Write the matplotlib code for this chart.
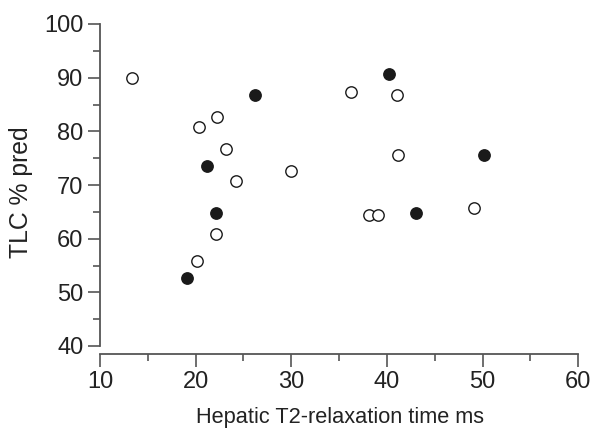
import matplotlib
matplotlib.use("Agg")
import matplotlib.pyplot as plt
from matplotlib.ticker import MultipleLocator

open_x = [13.3, 22.2, 20.3, 23.2, 24.2, 30.0, 22.1, 20.1, 36.2, 41.0, 41.1, 38.1, 39.06, 49.1]
open_y = [90.0, 82.7, 80.8, 76.8, 70.7, 72.7, 60.8, 55.8, 87.4, 86.7, 75.5, 64.5, 64.5, 65.8]
filled_x = [26.2, 21.15, 22.1, 19.06, 40.2, 50.1, 43.0]
filled_y = [86.8, 73.6, 64.8, 52.7, 90.7, 75.6, 64.7]

xlabel = "Hepatic T2-relaxation time ms"
ylabel = "TLC % pred"

plt.rcParams['font.family'] = ['Liberation Sans Narrow', 'Liberation Sans', 'DejaVu Sans']

fig = plt.figure(figsize=(5.91, 4.32), dpi=100)
ax = fig.add_axes([100/591, 1-346/432, (578.3-100)/591, (346-24)/432])

ax.scatter(open_x, open_y, s=8.2**2, facecolors='white', edgecolors='#1a1a1a', linewidths=1.0, zorder=3, clip_on=False)
ax.scatter(filled_x, filled_y, s=8.2**2, facecolors='#1a1a1a', edgecolors='#1a1a1a', linewidths=1.0, zorder=3, clip_on=False)

ax.set_xlim(10, 60)
ax.set_ylim(40, 100)
ax.xaxis.set_major_locator(MultipleLocator(10))
ax.xaxis.set_minor_locator(MultipleLocator(5))
ax.yaxis.set_major_locator(MultipleLocator(10))
ax.yaxis.set_minor_locator(MultipleLocator(5))

for s in ['top', 'right']:
    ax.spines[s].set_visible(False)
for s in ['left', 'bottom']:
    ax.spines[s].set_color('#555555')
    ax.spines[s].set_linewidth(1.3)
ax.spines['bottom'].set_position(('outward', 6))

ax.tick_params(which='major', length=9, width=1.2, color='#555555', labelsize=17, labelcolor='#222222', pad=3)
ax.tick_params(which='minor', length=5, width=1.2, color='#555555')

ax.set_xlabel(xlabel, fontsize=15.7, color='#222222')
ax.set_ylabel(ylabel, fontsize=17.8, color='#222222')
ax.xaxis.set_label_coords(0.502, -0.19)
ax.yaxis.set_label_coords(-0.14, 0.478)

fig.savefig("out.png", dpi=100)
